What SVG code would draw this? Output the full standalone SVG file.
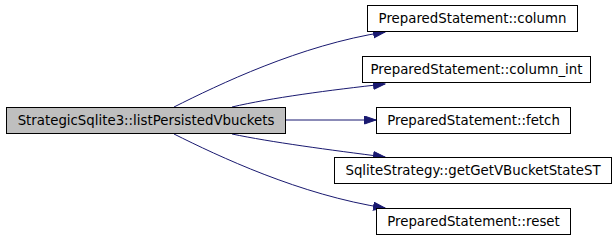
<svg xmlns="http://www.w3.org/2000/svg" width="616" height="240" viewBox="0 0 616 240">
  <style>
    .box { fill: #ffffff; stroke: #000000; stroke-width: 1; }
    .root { fill: #bfbfbf; stroke: #000000; stroke-width: 1; }
    .lbl { font-family: "DejaVu Sans", "Liberation Sans", sans-serif; font-size: 13.33px; fill: #000000; text-anchor: middle; }
    .edge { fill: none; stroke: #191970; stroke-width: 1; }
  </style>
  <defs>
    <marker id="arrow" markerUnits="userSpaceOnUse" markerWidth="13" markerHeight="10" refX="12" refY="4.5" orient="auto">
      <polygon points="0.5,0.5 12,4.5 0.5,8.5" fill="#191970" stroke="#191970" stroke-width="1"/>
    </marker>
  </defs>
  <rect width="616" height="240" fill="#ffffff"/>

  <g id="connectors">
    <path class="edge" marker-end="url(#arrow)" d="M174,107 C218,85 300,45 385,32"/>
    <path class="edge" marker-end="url(#arrow)" d="M232,107 C270,98 330,90 385,84"/>
    <path class="edge" marker-end="url(#arrow)" d="M285,120 L376,120"/>
    <path class="edge" marker-end="url(#arrow)" d="M232,134 C270,142 330,150 385,157"/>
    <path class="edge" marker-end="url(#arrow)" d="M174,134 C218,156 300,195 385,208"/>
  </g>

  <g id="node-listPersistedVbuckets">
    <rect class="root" x="6.5" y="107.5" width="279" height="26"/>
    <text class="lbl" x="146" y="125">StrategicSqlite3::listPersistedVbuckets</text>
  </g>
  <g id="node-column">
    <rect class="box" x="367.5" y="5.5" width="210" height="26"/>
    <text class="lbl" x="472.5" y="23">PreparedStatement::column</text>
  </g>
  <g id="node-column_int">
    <rect class="box" x="362.5" y="56.5" width="228" height="26"/>
    <text class="lbl" x="476.5" y="74">PreparedStatement::column_int</text>
  </g>
  <g id="node-fetch">
    <rect class="box" x="376.5" y="107.5" width="194" height="26"/>
    <text class="lbl" x="473.5" y="125">PreparedStatement::fetch</text>
  </g>
  <g id="node-getGetVBucketStateST">
    <rect class="box" x="334.5" y="157.5" width="277" height="26"/>
    <text class="lbl" x="473" y="175">SqliteStrategy::getGetVBucketStateST</text>
  </g>
  <g id="node-reset">
    <rect class="box" x="376.5" y="208.5" width="194" height="26"/>
    <text class="lbl" x="473.5" y="226">PreparedStatement::reset</text>
  </g>
</svg>
